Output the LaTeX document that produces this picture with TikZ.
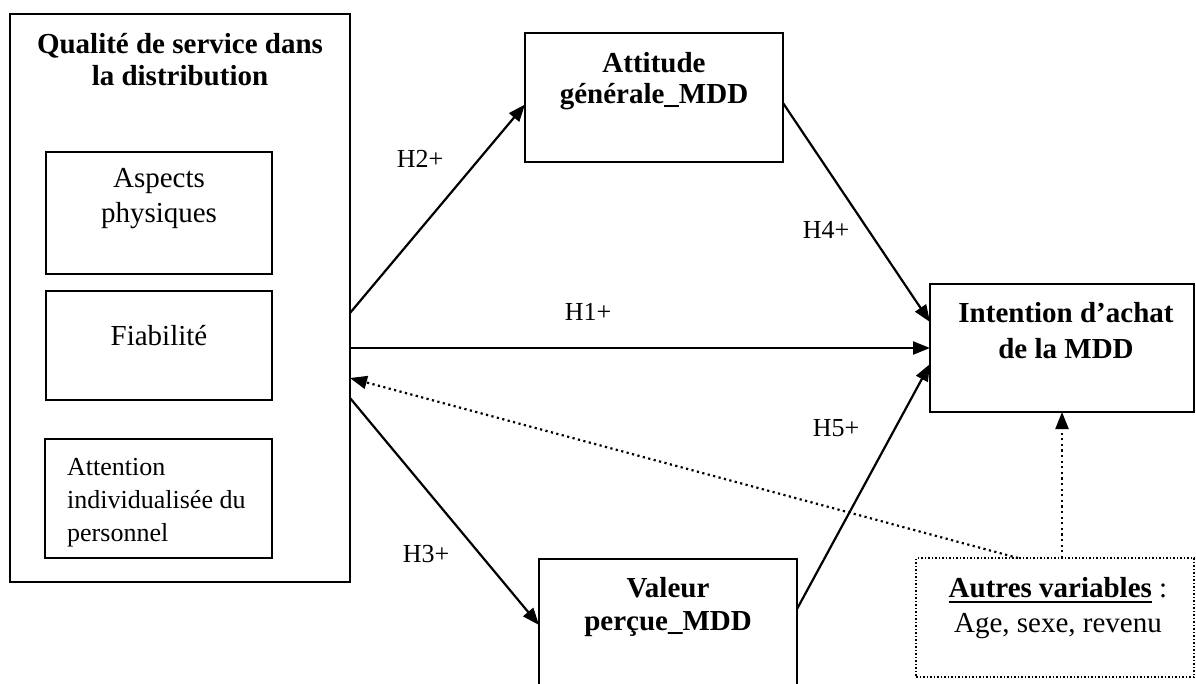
\documentclass[tikz,border=0pt]{standalone}
\usepackage{fontspec}
\setmainfont{Liberation Serif}
\usetikzlibrary{arrows.meta,calc}
\newcommand\myul[1]{\setbox0\hbox{#1}\rlap{\rule[-6pt]{\wd0}{2.4pt}}\box0}
\begin{document}
\begin{tikzpicture}[x=1pt,y=-1pt,
  box/.style={draw,line width=2.2pt,inner sep=0pt,outer sep=0pt},
  dbox/.style={draw,line width=1.5pt,dash pattern=on 1.5pt off 2pt,inner sep=0pt,outer sep=0pt},
  btxt/.style={anchor=base,align=center,inner sep=0pt},
  lab/.style={inner sep=0pt,font=\fontsize{26}{30}\selectfont},
  arr/.style={line width=2.2pt,-{Triangle[length=17pt,width=13pt]}},
  darr/.style={line width=2.2pt,dash pattern=on 2.2pt off 3.4pt,-{Triangle[length=17pt,width=13pt]}}]
\useasboundingbox (0,0) rectangle (1196,683);
\clip (0,0) rectangle (1196,683);
% boxes
\node[box,minimum width=340pt,minimum height=568pt] (big) at (180,298) {};
\node[box,minimum width=226pt,minimum height=122pt] (asp) at (159,213) {};
\node[box,minimum width=226pt,minimum height=109pt] (fia) at (159,345.5) {};
\node[box,minimum width=227pt,minimum height=119pt] (att) at (158.5,498.5) {};
\node[box,minimum width=258pt,minimum height=129pt] (attg) at (654,97.5) {};
\node[box,minimum width=264pt,minimum height=128pt] (int) at (1062,348) {};
\node[box,minimum width=258pt,minimum height=150pt] (val) at (668,634) {};
\node[dbox,minimum width=278pt,minimum height=119pt] (aut) at (1055,617.5) {};
% texts (anchor base = last line baseline)
\node[btxt,font=\fontsize{29}{32}\selectfont\bfseries] (tbig) at (180,85) {Qualité de service dans\\la distribution};
\node[btxt,font=\fontsize{29}{35}\selectfont] (tasp) at (159,222) {Aspects\\physiques};
\node[btxt,font=\fontsize{29}{35}\selectfont] (tfia) at (159,345) {Fiabilité};
\node[anchor=base west,align=left,inner sep=0pt,font=\fontsize{26}{33}\selectfont] (tatt) at (67,541) {Attention\\individualisée du\\personnel};
\node[btxt,font=\fontsize{29}{31}\selectfont\bfseries] (tattg) at (654,103) {Attitude\\générale\_MDD};
\node[btxt,font=\fontsize{29}{36}\selectfont\bfseries] (tint) at (1066,358) {Intention d’achat\\de la MDD};
\node[btxt,font=\fontsize{29}{33}\selectfont\bfseries] (tval) at (668,630) {Valeur\\perçue\_MDD};
\node[btxt,font=\fontsize{29}{35}\selectfont] (taut) at (1058,632) {\myul{\textbf{Autres variables}}\ :\\Age, sexe, revenu};
% connectors
\draw[arr] ($(big.north east)+(0,299)$) -- ($(attg.west)+(0,7)$);
\draw[arr] ($(attg.east)+(0,5.5)$) -- ($(int.west)+(0,-26)$);
\draw[arr] (big.east |- int.west) -- (int.west);
\draw[arr] ($(val.east)+(0,-25)$) -- ($(int.west)+(0,16)$);
\draw[arr] ($(big.north east)+(0,384)$) -- ($(val.west)+(0,-9)$);
\draw[darr] ($(aut.north)+(-37,0)$) -- ($(big.north east)+(0,364)$);
\draw[darr] (int.south |- aut.north) -- (int.south);
% labels
\node[lab] (h2) at (420,159) {H2+};
\node[lab] (h4) at (826,230) {H4+};
\node[lab] (h1) at (588,312) {H1+};
\node[lab] (h5) at (836,428) {H5+};
\node[lab] (h3) at (426,554) {H3+};
\end{tikzpicture}
\end{document}
